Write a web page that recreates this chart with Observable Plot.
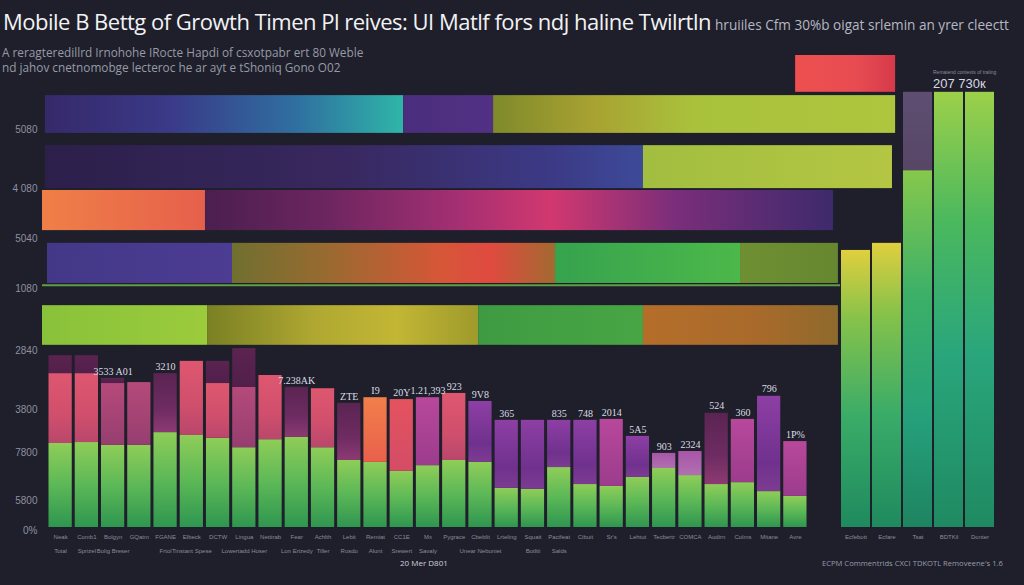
<!DOCTYPE html>
<html><head><meta charset="utf-8">
<script src="https://cdn.jsdelivr.net/npm/d3@7"></script>
<script src="https://cdn.jsdelivr.net/npm/@observablehq/plot@0.6"></script>
<style>
html,body{margin:0;padding:0;background:#1e1f2a;}
#wrap{position:relative;width:1024px;height:585px;overflow:hidden;background:#1e1f2a;font-family:"Open Sans",sans-serif;}
#wrap svg.layer{position:absolute;left:0;top:0;}
#title{position:absolute;left:3px;top:6px;white-space:nowrap;color:#f2f2f5;font-size:22px;letter-spacing:-0.5px;}
#title span{font-size:13.6px;color:#b5b7c2;letter-spacing:0;margin-left:4px;}
#sub{position:absolute;left:2px;top:45px;color:#979aa8;font-size:11.8px;line-height:15px;white-space:nowrap;}
#xlab{position:absolute;left:400px;top:557px;font-size:8px;color:#d0d1da;white-space:nowrap;}
#cap{position:absolute;left:822px;top:558px;font-size:7.6px;color:#9a9caa;white-space:nowrap;}
</style></head>
<body>
<svg width="0" height="0" style="position:absolute"><defs id="defs"></defs></svg>
<div id="wrap"></div>
<script>
// ---------- data ----------
const titleText = "Mobile В Bettg of Growth Timen Pl reives: UI Matlf fors ndj haline Twilrtln";
const titleTail = "hruiiles Cfm 30%b oigat srlemin an yrer cleectt";
const subtitleLines = ["A reragteredillrd Irnohohe IRocte Hapdi of csxotpabr ert 80 Weble",
                       "nd jahov cnetnomobge lecteroc he ar ayt e tShoniq Gono O02"];
const xAxisTitle = "20 Mer D801";
const captionText = "ECPM Commentrids CXCI  TDKOTL Removeene's 1.6";

// y-axis ticks
const yTickValues = [84.3, 71.8, 61.2, 50.6, 37.5, 25.0, 15.9, 5.7, -0.6];
const yTickLabels = ["5080", "4 080", "5040", "1080", "2840", "3800", "7800", "5800", "0%"];

// left bars (29 categories)
const xLabels1 = ["Neak","Comb1","Bolgyn","GQatm","FGANE","Elbeck","DCTW","Lingua","Nettirab","Fear","Achlth","Lebit","Remiat","CC1E","Mx","Pygrace","Cbeblit","Lrteling","Squait","Pacifeat","Cibuit","Sr's","Lehtut","Tecbertr","COMCA","Audirn","Colms","Mitane","Avre"];
const xLabels2 = ["Total","Sprizel","Bolig Breser","","Frtol","Tinstant Spese","","Lowertadd Hoser","","Lon Erizedy","Tiller","Rusdo","Alunt","Srewert","Savaly","","Unear Nebuniet","","Botliti","Salds","","","","","","","","",""];
const greenVals = [17.8,18.0,17.4,17.4,20.1,19.5,18.9,16.9,18.6,19.1,16.9,14.2,13.8,11.9,13.1,14.2,13.8,8.3,8.1,12.7,9.1,8.7,10.6,12.5,11.0,9.1,9.5,7.6,6.6];
const topVals   = [32.6,32.6,30.5,30.7,32.6,35.2,30.5,29.7,32.2,29.7,29.4,26.3,27.5,27.1,27.5,28.4,26.7,22.7,22.7,22.7,22.7,22.9,19.3,15.7,16.1,24.2,22.9,27.8,18.2];
const capVals   = [36.4,36.4,31.6,null,null,null,35.2,37.9,null,null,null,null,null,null,null,null,null,null,null,null,null,null,null,null,null,null,null,null,null];
const topKinds  = ["tPink","tPink","tMauve","tMauve","tPlum","tPink","tPink","tMauve","tPink","tPlum","tPink","tPlum","tOrange","tRed","tMagenta","tPink","tViolet","tViolet","tViolet","tViolet","tViolet","tMagenta","tViolet","tLilac","tLilac","tPlum","tMagenta","tViolet","tMagenta"];

// value annotations
const noteBars  = [2,4,9,11,12,13,14,15,16,17,19,20,21,22,23,24,25,26,27,28];
const noteTexts = ["3533 A01","3210","7.238AK","ZTE","I9","20Y","1.21,393","923","9V8","365","835","748","2014","5A5","903","2324","524","360","796","1P%"];

// horizontal segments (start, end in column units; low, high in value units)
const segStart = [-0.08,13.57,17.0,28.51,-0.08,22.71,-0.19,6.02,0.0,7.05,19.36,26.41,-0.19,6.1,16.43,22.71];
const segEnd   = [13.57,17.0,32.32,32.32,22.71,32.2,6.02,29.95,7.05,19.36,26.41,30.14,6.1,16.43,22.71,30.14];
const segLow   = [83.5,83.5,83.5,92.2,71.8,71.8,62.9,62.9,51.7,51.7,51.7,51.7,38.6,38.6,38.6,38.6];
const segHigh  = [91.5,91.5,91.5,100,80.9,80.9,71.4,71.4,60.2,60.2,60.2,60.2,47.0,47.0,47.0,47.0];
const segKind  = ["r1a","r1b","r1c","rBox","r2a","r2b","r3a","r3b","r4a","r4b","r4c","r4d","r5a","r5b","r5c","r5d"];

// divider line
const dividerVal = [51.3];
const dividerFrom = [-0.19];
const dividerTo = [30.22];

// right bars
const rightCats  = ["Ecfebott","Ecfare","Tsat","BDTKil","Donter"];
const rightVals  = [58.7, 60.2, 75.6, 92.2, 92.2];
const rightCaps  = [null, null, 92.2, null, null];
const rightKinds = ["rYel","rYel","rGrn","rTeal","rTeal"];
const rightNote  = "207 730к";
const rightNoteSmall = "Remaiend contexts of traling";

// ---------- styles (gradients) ----------
const gradients = {
  gBar:   ["v", [0,"#8fcd58"],[0.5,"#5cb857"],[1,"#2f9650"]],
  gCap:   ["v", [0,"#5b2350"],[1,"#521f4b"]],
  tPink:  ["v", [0,"#de5770"],[0.6,"#d04f6c"],[1,"#b9476c"]],
  tMauve: ["v", [0,"#b54a7a"],[1,"#963e70"]],
  tPlum:  ["v", [0,"#5a2452"],[0.6,"#6e2c62"],[1,"#8c3a72"]],
  tOrange:["v", [0,"#f17f4a"],[1,"#e9604c"]],
  tRed:   ["v", [0,"#e4535f"],[1,"#d44c66"]],
  tMagenta:["v",[0,"#b8489c"],[1,"#9c3c8c"]],
  tViolet:["v", [0,"#8d3fa4"],[0.7,"#70318e"],[1,"#7c3c92"]],
  tLilac: ["v", [0,"#a856a8"],[1,"#b070b0"]],
  r1a: ["h", [0,"#36296a"],[0.35,"#3a3a88"],[0.7,"#2f6fa0"],[1,"#2fb5a8"]],
  r1b: ["h", [0,"#4a2d7c"],[1,"#523184"]],
  r1c: ["h", [0,"#7f8a2a"],[0.25,"#a8a232"],[0.5,"#a9c23c"],[1,"#aec63e"]],
  rBox:["h", [0,"#ee5050"],[0.6,"#e84c52"],[1,"#d63a4a"]],
  r2a: ["h", [0,"#2c1f4a"],[0.5,"#38285f"],[0.85,"#3c3a86"],[1,"#3d4a98"]],
  r2b: ["h", [0,"#a2be40"],[1,"#b4c643"]],
  r3a: ["h", [0,"#ef7f47"],[1,"#e6604c"]],
  r3b: ["h", [0,"#4a1f4e"],[0.2,"#6e2660"],[0.4,"#a32f72"],[0.55,"#d2386f"],[0.75,"#7a2e7a"],[1,"#3e2a6c"]],
  r4a: ["h", [0,"#433888"],[1,"#4c3c92"]],
  r4b: ["h", [0,"#6f7030"],[0.3,"#9a6a30"],[0.65,"#d65638"],[0.8,"#e04a40"],[1,"#a26a30"]],
  r4c: ["h", [0,"#36a34e"],[1,"#4cb84a"]],
  r4d: ["h", [0,"#6f8f33"],[1,"#66872f"]],
  r5a: ["h", [0,"#88c23a"],[1,"#9ccb3c"]],
  r5b: ["h", [0,"#7a8024"],[0.4,"#b0a832"],[0.7,"#c2b634"],[1,"#9e9a2c"]],
  r5c: ["h", [0,"#3f9b42"],[1,"#48a544"]],
  r5d: ["h", [0,"#b56e2a"],[0.6,"#a86a2b"],[1,"#8e6a2c"]],
  rYel: ["v", [0,"#e0cf3e"],[0.25,"#86c24a"],[0.6,"#3aac68"],[1,"#1f8a5e"]],
  rGrn: ["v", [0,"#86c84c"],[0.35,"#3cb068"],[0.7,"#25a07a"],[1,"#1e8460"]],
  rTeal:["v", [0,"#9cd04a"],[0.3,"#4ab85e"],[0.6,"#2aa67c"],[1,"#1f8a62"]],
  rCap: ["v", [0,"#5e4e72"],[1,"#574665"]]
};
const NS = "http://www.w3.org/2000/svg";
const defs = document.getElementById("defs");
for (const [id, [dir, ...stops]] of Object.entries(gradients)) {
  const lg = document.createElementNS(NS, "linearGradient");
  lg.setAttribute("id", "g-" + id);
  lg.setAttribute("x1", "0"); lg.setAttribute("y1", "0");
  lg.setAttribute("x2", dir === "h" ? "1" : "0"); lg.setAttribute("y2", dir === "h" ? "0" : "1");
  for (const [o, c] of stops) {
    const s = document.createElementNS(NS, "stop");
    s.setAttribute("offset", o); s.setAttribute("stop-color", c);
    lg.appendChild(s);
  }
  defs.appendChild(lg);
}
const kinds = Object.keys(gradients);
const colorScale = {type: "ordinal", domain: kinds, range: kinds.map(k => `url(#g-${k})`)};

// ---------- tables ----------
const bars = xLabels1.map((l1, i) => ({i, l1, l2: xLabels2[i], g: greenVals[i], t: topVals[i], c: capVals[i], kind: topKinds[i]}));
const segs = segKind.map((kind, j) => ({start: segStart[j], end: segEnd[j], low: segLow[j], high: segHigh[j], kind}));
const notes = noteBars.map((b, j) => ({i: b, text: noteTexts[j], y: Math.max(topVals[b], capVals[b] ?? 0)}));
const yTicks = yTickValues.map((v, j) => ({v, label: yTickLabels[j]}));
const dividers = dividerVal.map((v, j) => ({v, a: dividerFrom[j], b: dividerTo[j]}));
const right = rightCats.map((cat, j) => ({cat, g: rightVals[j], c: rightCaps[j], kind: rightKinds[j]}));

const common = {width: 1024, height: 585, marginTop: 55, marginBottom: 58,
  style: {background: "transparent", overflow: "visible", fontFamily: "Liberation Sans, sans-serif"},
  y: {domain: [0, 100], axis: null}, color: colorScale};

const plotA = Plot.plot({
  ...common,
  marginLeft: 47, marginRight: 216,
  x: {domain: [0, 29], axis: null},
  marks: [
    Plot.rect(segs, {x1: "start", x2: "end", y1: "low", y2: "high", fill: "kind"}),
    Plot.ruleY(dividers, {y: "v", x1: "a", x2: "b", stroke: "#5f9e45", strokeWidth: 2}),
    Plot.rect(bars, {x1: d => d.i, x2: d => d.i + 1, y1: 0, y2: "g", fill: "url(#g-gBar)", insetLeft: 1.5, insetRight: 1.5}),
    Plot.rect(bars, {x1: d => d.i, x2: d => d.i + 1, y1: "g", y2: "t", fill: "kind", insetLeft: 1.5, insetRight: 1.5}),
    Plot.rect(bars.filter(d => d.c != null), {x1: d => d.i, x2: d => d.i + 1, y1: "t", y2: "c", fill: "url(#g-gCap)", insetLeft: 1.5, insetRight: 1.5}),
    Plot.text(notes, {x: d => d.i + 0.5, y: "y", text: "text", dy: -7, fill: "#dcdde5", fontSize: 10, fontFamily: "Liberation Serif, serif"}),
    Plot.text(yTicks, {y: "v", text: "label", frameAnchor: "left", textAnchor: "end", dx: -10, fill: "#8e90a0", fontSize: 10}),
    Plot.text(bars, {x: d => d.i + 0.5, y: 0, text: "l1", dy: 10, fill: "#8a8c9a", fontSize: 6}),
    Plot.text(bars, {x: d => d.i + 0.5, y: 0, text: "l2", dy: 24, fill: "#8a8c9a", fontSize: 6})
  ]
});

const plotB = Plot.plot({
  ...common,
  marginLeft: 841, marginRight: 30,
  x: {type: "band", domain: rightCats, axis: null, paddingInner: 0.08, paddingOuter: 0},
  marks: [
    Plot.barY(right, {x: "cat", y1: 0, y2: "g", fill: "kind"}),
    Plot.barY(right.filter(d => d.c != null), {x: "cat", y1: "g", y2: "c", fill: "url(#g-rCap)"}),
    Plot.text([rightNote], {x: () => rightCats[3], y: () => rightVals[3], text: d => d, dy: -8, dx: -16, textAnchor: "start", fill: "#d8d9e2", fontSize: 13}),
    Plot.text([rightNoteSmall], {x: () => rightCats[3], y: () => rightVals[3], text: d => d, dy: -20, dx: -16, textAnchor: "start", fill: "#8a8c9a", fontSize: 5}),
    Plot.text(right, {x: "cat", y: 0, text: "cat", dy: 10, fill: "#8a8c9a", fontSize: 6})
  ]
});

const wrap = document.getElementById("wrap");
for (const p of [plotA, plotB]) { p.classList.add("layer"); wrap.appendChild(p); }
const t = document.createElement("div"); t.id = "title";
t.textContent = titleText;
const tail = document.createElement("span"); tail.textContent = titleTail; t.appendChild(tail);
wrap.appendChild(t);
const s = document.createElement("div"); s.id = "sub"; s.innerHTML = subtitleLines.map(l => l.replace(/&/g,"&amp;").replace(/</g,"&lt;")).join("<br>");
wrap.appendChild(s);
const xl = document.createElement("div"); xl.id = "xlab"; xl.textContent = xAxisTitle; wrap.appendChild(xl);
const cp = document.createElement("div"); cp.id = "cap"; cp.textContent = captionText; wrap.appendChild(cp);
</script>
</body></html>
